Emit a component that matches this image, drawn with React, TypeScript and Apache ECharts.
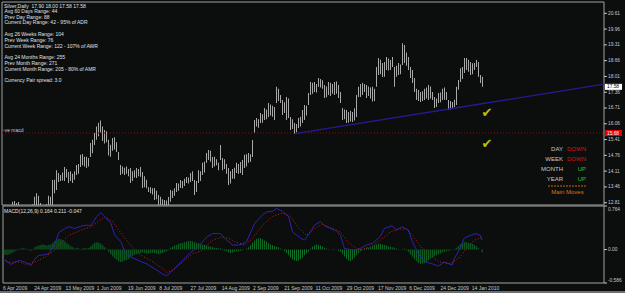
import React, { useEffect, useRef } from "react";
import * as echarts from "echarts";

const BG = "#0c0e0e";
const FONT = '"Liberation Sans", Arial, sans-serif';

// Bar highs / lows, one per daily bar (index 0 = 6 Apr 2009)
const highs = [
  12.55, 12.6, 12.5, 12.45, 12.7, 12.85, 12.88, 12.8, 12.84, 12.7, 12.55, 12.4, 12.3, 12.35, 12.5, 12.75, 13.05, 13.2, 13.1, 12.8, 12.6, 12.65, 12.75, 13.1, 13.05,
  13.74, 13.75, 14.15, 14.03, 13.95, 14.05, 14.28, 14.2, 14.07, 14.1, 14.0, 14.1, 14.36, 14.4, 14.78, 14.82, 14.7, 14.7, 14.65, 15.27, 15.4, 15.68, 15.95, 16.1, 16.2,
  15.95, 15.8, 15.75, 15.4, 15.2, 15.47, 15.5, 15.3, 14.9, 14.36, 14.3, 14.25, 14.3, 14.2, 14.24, 14.1, 14.15, 14.24, 14.2, 14.28, 14.07, 13.9, 13.75, 13.45, 13.45,
  13.4, 13.41, 13.3, 13.13, 13.05, 12.95, 12.92, 12.9, 13.04, 13.33, 13.3, 13.4, 13.62, 13.6, 13.74, 13.7, 13.8, 13.87, 13.85, 14.03, 14.1, 13.74, 13.7, 14.15, 14.1,
  14.45, 14.5, 14.86, 14.98, 14.95, 14.69, 14.7, 14.6, 14.45, 15.19, 14.65, 14.6, 14.4, 14.24, 14.1, 14.2, 14.25, 14.45, 14.4, 14.49, 14.57, 14.78, 14.8, 14.86, 14.8,
  15.39, 16.22, 16.3, 16.25, 16.5, 16.45, 16.71, 16.65, 16.92, 16.85, 16.8, 16.75, 17.58, 17.5, 17.25, 17.04, 16.95, 17.16, 17.1, 16.34, 16.25, 16.09, 16.05, 16.3, 16.35,
  16.63, 16.83, 16.8, 17.33, 17.78, 17.75, 17.78, 17.7, 17.95, 17.9, 17.85, 17.66, 17.6, 17.78, 17.75, 17.7, 17.78, 17.8, 17.66, 17.37, 16.71, 16.65, 16.63, 16.55, 16.6,
  16.55, 16.7, 17.25, 17.58, 17.7, 17.75, 17.7, 17.66, 17.6, 17.55, 17.58, 17.5, 18.4, 18.77, 18.7, 18.56, 18.6, 18.81, 18.75, 18.69, 18.81, 18.4, 18.45, 18.56, 18.5,
  19.38, 19.3, 19.0, 18.81, 18.4, 18.27, 17.95, 17.5, 17.45, 17.37, 17.4, 17.5, 17.55, 17.66, 17.6, 17.37, 17.16, 17.1, 17.33, 17.35, 17.5, 17.55, 17.37, 17.04, 17.0,
  16.96, 17.05, 17.58, 17.86, 18.35, 18.4, 18.77, 18.77, 18.7, 18.6, 18.55, 18.56, 18.69, 18.6, 18.07, 18.0,
];
const lows = [
  12.1, 12.2, 12.05, 11.95, 12.25, 12.4, 12.45, 12.35, 12.4, 12.3, 12.1, 11.9, 11.8, 11.85, 12.05, 12.3, 12.55, 12.7, 12.6, 12.4, 12.2, 12.25, 12.35, 12.7, 12.6,
  12.7, 13.2, 13.33, 13.66, 13.7, 13.72, 13.7, 13.85, 13.62, 13.7, 13.62, 13.75, 13.95, 14.0, 14.28, 14.35, 14.3, 14.24, 14.3, 14.69, 14.85, 15.19, 15.4, 15.55, 15.7,
  15.35, 15.25, 15.3, 14.75, 14.7, 14.95, 15.0, 14.9, 14.57, 13.95, 14.0, 13.95, 14.0, 13.9, 13.62, 13.7, 13.85, 13.83, 13.9, 13.88, 13.41, 13.45, 13.4, 13.25, 13.2,
  13.15, 12.92, 12.95, 12.7, 12.6, 12.55, 12.6, 12.55, 12.65, 12.85, 13.0, 13.1, 13.25, 13.3, 13.41, 13.4, 13.5, 13.62, 13.6, 13.66, 13.7, 13.13, 13.25, 13.62, 13.7,
  13.95, 14.05, 14.45, 14.57, 14.5, 14.24, 14.3, 14.35, 14.15, 14.57, 14.15, 14.2, 14.0, 13.54, 13.6, 13.8, 13.8, 14.03, 14.0, 14.03, 13.95, 14.24, 14.3, 14.45, 14.5,
  14.69, 15.68, 15.95, 15.9, 16.09, 16.1, 16.22, 16.25, 16.34, 16.4, 16.35, 16.22, 16.92, 17.0, 16.92, 16.42, 16.5, 16.22, 16.3, 15.8, 15.85, 15.66, 15.7, 15.89, 15.95,
  16.09, 16.22, 16.4, 16.83, 17.25, 17.3, 17.37, 17.35, 17.58, 17.55, 17.5, 17.12, 17.15, 17.25, 17.2, 17.3, 17.25, 17.3, 17.12, 16.92, 16.22, 16.25, 16.09, 16.1, 16.15,
  16.13, 16.2, 16.34, 17.16, 17.16, 17.25, 17.37, 17.12, 17.2, 17.1, 16.98, 17.0, 17.58, 18.07, 18.1, 17.99, 18.0, 18.27, 18.25, 18.27, 18.4, 17.58, 18.0, 18.07, 18.1,
  18.48, 18.56, 18.45, 18.27, 17.95, 17.74, 17.37, 17.04, 17.0, 16.96, 17.0, 17.04, 17.1, 17.04, 17.1, 17.04, 16.71, 16.75, 16.92, 16.95, 17.04, 17.05, 17.04, 16.63, 16.65,
  16.71, 16.75, 16.83, 17.46, 17.78, 17.9, 18.15, 18.27, 18.2, 18.07, 18.1, 18.27, 18.4, 18.0, 17.74, 17.58,
];

// Last bar O H L C (title line)
const titleOHLC = [17.9, 18.0, 17.58, 17.58];

const dateLabels = [
  "6 Apr 2009", "24 Apr 2009", "13 May 2009", "1 Jun 2009", "19 Jun 2009", "8 Jul 2009", "27 Jul 2009", "14 Aug 2009",
  "2 Sep 2009", "21 Sep 2009", "11 Oct 2009", "29 Oct 2009", "17 Nov 2009", "6 Dec 2009", "24 Dec 2009", "14 Jan 2010",
];
const dateStep = 15.65;

const priceTicks = [20.61, 19.96, 19.31, 18.66, 18.01, 17.36, 16.71, 16.06, 15.41, 14.76, 14.11, 13.46, 12.81];
const macdTicks = [0.764, 0.0, -0.586];

// MACD main line [bar index, value]
const macdLine = [
  [0, -0.16], [4, -0.26], [8, -0.19], [11, -0.22], [14, -0.28], [16, -0.16], [18, -0.1], [21, -0.09], [23, -0.07],
  [26, 0.11], [28, 0.3], [31, 0.37], [33, 0.4], [36, 0.37], [39, 0.41], [42, 0.43], [44, 0.42], [47, 0.58], [49, 0.65],
  [51, 0.58], [54, 0.46], [56, 0.25], [59, 0.14], [61, -0.04], [64, -0.13], [69, -0.21], [72, -0.25], [77, -0.36],
  [80, -0.43], [82, -0.46], [85, -0.36], [90, -0.19], [94, -0.05], [97, 0.03], [99, 0.1], [102, 0.22], [105, 0.28],
  [109, 0.28], [111, 0.2], [115, 0.08], [118, 0.08], [120, 0.1], [122, 0.14], [126, 0.46], [130, 0.61], [132, 0.66],
  [135, 0.67], [137, 0.72], [140, 0.67], [143, 0.58], [145, 0.31], [149, 0.2], [151, 0.165], [154, 0.31], [156, 0.43],
  [159, 0.49], [161, 0.42], [164, 0.37], [167, 0.33], [169, 0.25], [171, 0.02], [174, 0.0], [176, -0.01], [179, 0.02],
  [182, 0.08], [185, 0.11], [189, 0.23], [191, 0.37], [195, 0.42], [197, 0.34], [200, 0.4], [203, 0.34], [205, 0.14],
  [208, -0.07], [211, -0.21], [215, -0.25], [218, -0.29], [221, -0.22], [225, -0.27], [226, -0.16], [229, 0.02],
  [231, 0.2], [234, 0.25], [237, 0.28], [239, 0.25], [240, 0.164],
];
// Signal line [bar index, value]
const signalLine = [
  [0, -0.2], [3, -0.22], [9, -0.22], [11, -0.26], [16, -0.22], [21, -0.13], [25, -0.04], [29, 0.11], [33, 0.25],
  [39, 0.34], [44, 0.4], [49, 0.52], [51, 0.57], [55, 0.49], [58, 0.34], [60, 0.25], [64, 0.07], [69, -0.1],
  [74, -0.19], [79, -0.31], [82, -0.4], [85, -0.37], [90, -0.22], [95, -0.07], [99, -0.03], [105, 0.165],
  [110, 0.225], [113, 0.2], [116, 0.14], [121, 0.08], [125, 0.195], [130, 0.43], [135, 0.58], [140, 0.64],
  [144, 0.58], [148, 0.385], [152, 0.25], [156, 0.37], [160, 0.44], [165, 0.37], [169, 0.31], [173, 0.12],
  [177, 0.02], [180, 0.0], [184, 0.05], [189, 0.165], [194, 0.31], [198, 0.36], [202, 0.36], [205, 0.25],
  [210, 0.02], [214, -0.1], [218, -0.21], [224, -0.25], [229, -0.13], [232, 0.02], [236, 0.165], [240, 0.211],
];
// Histogram, one per bar
const histogram = [
  -0.08, -0.09, -0.09, -0.08, -0.07, -0.05,
  -0.03, -0.01, 0.01, 0.02,
  0.03, 0.02, 0.01, -0.01,
  -0.02, 0.01,
  0.04, 0.06, 0.07, 0.08, 0.09, 0.08, 0.07, 0.08, 0.09,
  0.12, 0.15, 0.18, 0.19, 0.18, 0.16, 0.14,
  0.11, 0.09, 0.06, 0.04,
  0.02, 0.03, 0.02, 0.01, 0.02, 0.03, 0.02, 0.03,
  0.06, 0.09, 0.12, 0.13, 0.12, 0.1,
  0.07, 0.04, 0.01,
  -0.04, -0.08, -0.12, -0.15, -0.18, -0.21, -0.22, -0.21, -0.19,
  -0.18, -0.16, -0.13,
  -0.11, -0.09, -0.08, -0.07, -0.06,
  -0.05, -0.06, -0.07, -0.07, -0.06, -0.05, -0.06, -0.07, -0.08, -0.07, -0.06, -0.04, -0.03, -0.01,
  0.03, 0.05, 0.07, 0.08, 0.1, 0.11, 0.12, 0.13, 0.14, 0.15, 0.15, 0.14, 0.13, 0.12, 0.11, 0.1,
  0.09, 0.08, 0.07, 0.06, 0.05,
  0.04, 0.03, 0.03, 0.02, 0.02,
  -0.01, -0.02, -0.03, -0.05, -0.06, -0.05, -0.04, -0.03, -0.03, -0.02, -0.01, 0.0,
  0.02, 0.04,
  0.08, 0.12, 0.16, 0.19, 0.2, 0.2, 0.18, 0.16, 0.14, 0.11, 0.09, 0.08,
  0.06, 0.05, 0.04, 0.02, 0.01,
  -0.03, -0.06, -0.1, -0.14, -0.17, -0.19, -0.2, -0.19, -0.17, -0.14, -0.1, -0.07, -0.04,
  0.02, 0.05, 0.07, 0.09, 0.08, 0.07, 0.05,
  0.03, 0.02, 0.01, 0.0, -0.01, 0.01, 0.0, -0.02, -0.04,
  -0.08, -0.12, -0.16, -0.19, -0.2, -0.18, -0.14,
  -0.1, -0.06, -0.03, 0.01, 0.02,
  0.03, 0.03, 0.04,
  0.06, 0.08, 0.09, 0.1, 0.1, 0.09, 0.08, 0.07, 0.06, 0.05, 0.04, 0.03,
  0.02, 0.01, 0.0, 0.01, 0.02, -0.01,
  -0.04, -0.08, -0.12, -0.16, -0.2, -0.23, -0.25, -0.25, -0.24, -0.22, -0.19, -0.16, -0.14, -0.12, -0.1, -0.08, -0.07, -0.05,
  -0.04, -0.03, -0.02, -0.01, 0.0, 0.01, 0.03,
  0.06, 0.09, 0.11, 0.13, 0.13, 0.12, 0.11, 0.1, 0.08,
  0.06, 0.03, 0.0, -0.047,
];
const macdValues = [0.164, 0.211, -0.047];

const trendLine = [[146.5, 15.65], [301, 17.69]];
const macdLevel = 15.68;
const checkMarks = [[242.5, 16.54], [242.5, 15.23]];

const statsLines = [
  "Avg 60 Days Range: 44",
  "Prev Day Range: 88",
  "Current Day Range: 42 - 95% of ADR",
  "",
  "Avg 26 Weeks Range: 104",
  "Prev Week Range: 76",
  "Current Week Range: 122 - 107% of AWR",
  "",
  "Avg 24 Months Range: 255",
  "Prev Month Range: 271",
  "Current Month Range: 205 - 80% of AMR",
  "",
  "Currency Pair spread: 3.0",
];
const moveLabels = ["DAY", "WEEK", "MONTH", "YEAR"];
const moveValues = ["DOWN", "DOWN", "UP", "UP"];

const X_MIN = 0;
const X_MAX = 301;

function txt(x: number, y: number, text: string, fill: string, size: number, align = "left", valign = "middle", extra: any = {}) {
  return {
    type: "text",
    x,
    y,
    silent: true,
    z: 100,
    style: {
      text,
      fill,
      fontSize: size,
      fontFamily: FONT,
      align,
      verticalAlign: valign,
      textAlign: align,
      textVerticalAlign: valign,
      ...extra,
    },
  };
}

export default function App() {
  const ref = useRef<HTMLDivElement>(null);
  useEffect(() => {
    document.body.style.margin = "0";
    const chart = echarts.init(ref.current!, null, { renderer: "svg", width: 625, height: 293 });
    const bars = highs.map((h, i) => [i, h, lows[i]]);
    const hist = histogram.map((v, i) => [i, v]);
    const levelLine = [[X_MIN, macdLevel], [X_MAX, macdLevel]];

    chart.setOption({
      animation: false,
      backgroundColor: BG,
      grid: [
        { left: 2, top: 2, width: 602, height: 203, show: true, borderColor: "#a0a0a0", borderWidth: 1, backgroundColor: "transparent" },
        { left: 2, top: 206, width: 602, height: 77, show: true, borderColor: "#a0a0a0", borderWidth: 1, backgroundColor: "transparent" },
      ],
      xAxis: [
        { gridIndex: 0, type: "value", min: X_MIN, max: X_MAX, show: false },
        {
          gridIndex: 1,
          type: "value",
          min: X_MIN,
          max: X_MAX,
          interval: dateStep,
          axisLine: { show: false },
          axisTick: { show: false },
          splitLine: { show: false },
          axisLabel: {
            show: true,
            color: "#c8c8c8",
            fontSize: 5,
            fontFamily: FONT,
            align: "left",
            margin: 2,
            showMaxLabel: false,
            hideOverlap: false,
            formatter: (v: number) => {
              const k = Math.round(v / dateStep);
              return Math.abs(k * dateStep - v) < 0.01 && k < dateLabels.length ? dateLabels[k] : "";
            },
          },
        },
      ],
      yAxis: [
        { gridIndex: 0, type: "value", min: 12.715, max: 21.075, show: false },
        { gridIndex: 1, type: "value", min: -0.586, max: 0.764, show: false },
      ],
      series: [
        {
          type: "custom",
          xAxisIndex: 0,
          yAxisIndex: 0,
          silent: true,
          data: bars,
          encode: { x: 0, y: [1, 2] },
          renderItem: (params: any, api: any) => {
            const cs = params.coordSys;
            const a = api.coord([api.value(0), api.value(1)]);
            const b = api.coord([api.value(0), api.value(2)]);
            const clamp = (y: number) => Math.max(cs.y, Math.min(cs.y + cs.height, y));
            const x = Math.round(a[0]);
            const y1 = clamp(a[1]);
            const y2 = clamp(b[1]);
            return {
              type: "rect",
              shape: { x, y: y1, width: 1, height: Math.max(0, y2 - y1) },
              style: { fill: "#a8a8a8" },
            };
          },
        },
        {
          type: "line",
          xAxisIndex: 0,
          yAxisIndex: 0,
          silent: true,
          data: levelLine,
          symbol: "none",
          lineStyle: { color: "#a80000", width: 1, type: [1, 2] },
          z: 4,
        },
        {
          type: "line",
          xAxisIndex: 0,
          yAxisIndex: 0,
          silent: true,
          data: trendLine,
          symbol: "none",
          lineStyle: { color: "#261a90", width: 1.3 },
          z: 5,
        },
        {
          type: "scatter",
          xAxisIndex: 0,
          yAxisIndex: 0,
          silent: true,
          data: checkMarks,
          symbolSize: 1,
          itemStyle: { color: "rgba(0,0,0,0)" },
          label: { show: true, position: "inside", formatter: "\u2714", color: "#eeee00", fontSize: 13, fontFamily: "DejaVu Sans" },
          z: 6,
        },
        {
          type: "bar",
          xAxisIndex: 1,
          yAxisIndex: 1,
          silent: true,
          data: hist,
          barWidth: 1,
          itemStyle: { color: "#107028" },
          z: 2,
        },
        {
          type: "line",
          xAxisIndex: 1,
          yAxisIndex: 1,
          silent: true,
          data: macdLine,
          symbol: "none",
          lineStyle: { color: "#2f22b4", width: 1 },
          z: 4,
        },
        {
          type: "line",
          xAxisIndex: 1,
          yAxisIndex: 1,
          silent: true,
          data: signalLine,
          symbol: "none",
          lineStyle: { color: "#cc1a1a", width: 1, type: [1, 2] },
          z: 5,
        },
      ],
    });

    const yP = (v: number) => chart.convertToPixel({ yAxisIndex: 0 } as any, v) as unknown as number;
    const yM = (v: number) => chart.convertToPixel({ yAxisIndex: 1 } as any, v) as unknown as number;

    const g: any[] = [];
    // price scale
    priceTicks.forEach((p) => {
      const y = yP(p);
      g.push({ type: "line", silent: true, z: 100, shape: { x1: 604, y1: y, x2: 607, y2: y }, style: { stroke: "#c8c8c8", lineWidth: 1 } });
      g.push(txt(608, y, p.toFixed(2), "#c8c8c8", 4.8));
    });
    // current price box
    const yc = yP(titleOHLC[3]);
    g.push({ type: "rect", silent: true, z: 101, shape: { x: 605, y: yc - 3, width: 17, height: 6 }, style: { fill: "#ffffff" } });
    g.push({ ...txt(607, yc, titleOHLC[3].toFixed(2), "#000000", 4.8), z: 102 });
    // level box
    const yl = yP(macdLevel);
    g.push({ type: "rect", silent: true, z: 101, shape: { x: 605, y: yl - 3, width: 17, height: 6 }, style: { fill: "#e00000" } });
    g.push({ ...txt(607, yl, macdLevel.toFixed(2), "#ffffff", 4.8), z: 102 });
    g.push(txt(3, yl - 3.5, "-ve macd", "#c8c8c8", 5));
    // MACD scale
    macdTicks.forEach((v, i) => {
      const y = yM(v);
      const va = i === 0 ? "top" : i === macdTicks.length - 1 ? "bottom" : "middle";
      g.push({ type: "line", silent: true, z: 100, shape: { x1: 604, y1: y, x2: 607, y2: y }, style: { stroke: "#c8c8c8", lineWidth: 1 } });
      g.push(txt(608, y + (i === 0 ? 0.5 : i === macdTicks.length - 1 ? -0.5 : 0), v === 0 ? "0.00" : String(v), "#c8c8c8", 4.8, "left", va));
    });
    // title and stats
    g.push(txt(4, 5.7, "Silver,Daily  " + titleOHLC.map((v) => v.toFixed(2)).join(" "), "#e0e0e0", 5));
    statsLines.forEach((s, i) => {
      if (s) g.push(txt(4.5, 10.7 + i * 5.8, s, "#e0e0e0", 5));
    });
    g.push(txt(4, 210.5, "MACD(12,26,9) " + macdValues.map((v) => v.toFixed(3)).join(" "), "#e0e0e0", 5));
    // trend block
    moveLabels.forEach((s, i) => {
      const y = 149.3 + i * 10;
      g.push(txt(563, y, s, "#c8c8c8", 6, "right"));
      g.push(txt(586, y, moveValues[i], moveValues[i] === "UP" ? "#1ec81e" : "#d81414", 6, "right"));
    });
    g.push({ type: "line", silent: true, z: 100, shape: { x1: 548, y1: 186, x2: 587, y2: 186 }, style: { stroke: "#c86400", lineWidth: 1, lineDash: [2, 1] } });
    g.push(txt(567.5, 191.5, "Main Moves", "#d87814", 6, "center"));
    // bottom strip
    g.push({ type: "rect", silent: true, z: 100, shape: { x: 0, y: 291, width: 625, height: 2 }, style: { fill: "#6e6e6e" } });

    chart.setOption({ graphic: g });
    return () => chart.dispose();
  }, []);
  return <div ref={ref} style={{ position: "absolute", left: 0, top: 0, width: 625, height: 293, background: BG }} />;
}
